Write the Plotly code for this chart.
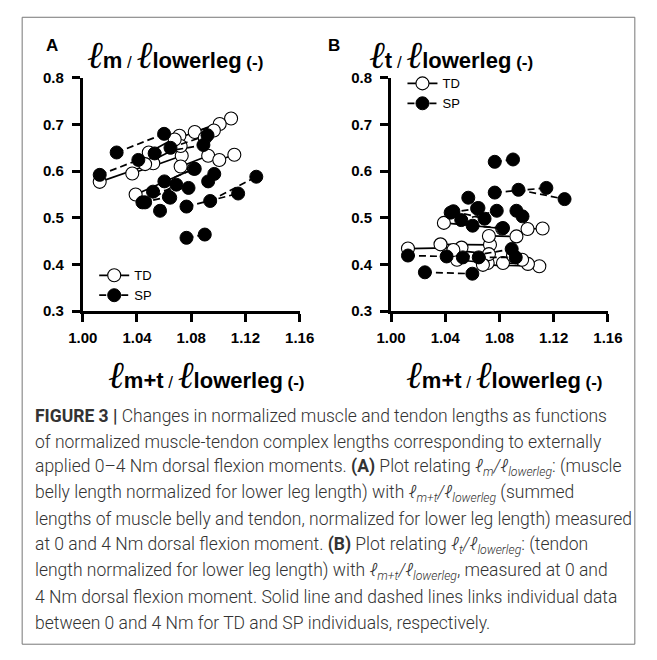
import plotly.graph_objects as go

# ---------------- data (normalized lengths, 0 Nm -> 4 Nm) ----------------
# TD individuals
td_x0 = [1.0125, 1.0365, 1.039, 1.0487, 1.046, 1.0678, 1.0722, 1.0826, 1.090, 1.1007]
td_x1 = [1.052, 1.073, 1.082, 1.0713, 1.0722, 1.1094, 1.0925, 1.101, 1.0967, 1.1118]
td_m0 = [0.577, 0.595, 0.550, 0.640, 0.615, 0.668, 0.610, 0.684, 0.671, 0.624]
td_m1 = [0.617, 0.633, 0.605, 0.676, 0.654, 0.713, 0.633, 0.701, 0.687, 0.635]
td_t0 = [0.434, 0.443, 0.489, 0.410, 0.431, 0.399, 0.461, 0.403, 0.419, 0.476]
td_t1 = [0.436, 0.442, 0.477, 0.403, 0.422, 0.396, 0.460, 0.401, 0.410, 0.477]

# SP individuals
sp_x0 = [1.0125, 1.025, 1.053, 1.0647, 1.0765, 1.0765, 1.094, 1.044, 1.046, 1.0518, 1.0602, 1.0925, 1.057]
sp_x1 = [1.041, 1.060, 1.089, 1.092, 1.090, 1.1146, 1.128, 1.0635, 1.069, 1.078, 1.0826, 1.097, 1.0645]
sp_m0 = [0.592, 0.640, 0.638, 0.650, 0.457, 0.524, 0.536, 0.533, 0.533, 0.556, 0.578, 0.578, 0.515]
sp_m1 = [0.624, 0.680, 0.656, 0.677, 0.464, 0.552, 0.588, 0.545, 0.571, 0.564, 0.605, 0.594, 0.543]
sp_t0 = [0.419, 0.383, 0.415, 0.415, 0.620, 0.554, 0.560, 0.511, 0.514, 0.495, 0.483, 0.515, 0.543]
sp_t1 = [0.417, 0.380, 0.433, 0.415, 0.625, 0.564, 0.540, 0.520, 0.498, 0.515, 0.478, 0.503, 0.521]

x_ticks = [1.00, 1.04, 1.08, 1.12, 1.16]
x_ticktext = ["1.00", "1.04", "1.08", "1.12", "1.16"]
y_ticks = [0.3, 0.4, 0.5, 0.6, 0.7, 0.8]
y_ticktext = ["0.3", "0.4", "0.5", "0.6", "0.7", "0.8"]

caption_lines = [
    "<b>FIGURE 3 |</b> Changes in normalized muscle and tendon lengths as functions",
    "of normalized muscle-tendon complex lengths corresponding to externally",
    "applied 0–4 Nm dorsal flexion moments. <b>(A)</b> Plot relating <i>ℓ<sub>m</sub>/ℓ<sub>lowerleg</sub></i>: (muscle",
    "belly length normalized for lower leg length) with <i>ℓ<sub>m+t</sub>/ℓ<sub>lowerleg</sub></i> (summed",
    "lengths of muscle belly and tendon, normalized for lower leg length) measured",
    "at 0 and 4 Nm dorsal flexion moment. <b>(B)</b> Plot relating <i>ℓ<sub>t</sub>/ℓ<sub>lowerleg</sub></i>: (tendon",
    "length normalized for lower leg length) with <i>ℓ<sub>m+t</sub>/ℓ<sub>lowerleg</sub></i>, measured at 0 and",
    "4 Nm dorsal flexion moment. Solid line and dashed lines links individual data",
    "between 0 and 4 Nm for TD and SP individuals, respectively.",
]

# ---------------- helpers ----------------
W, H = 657, 660


def px(v):
    return v / W


def py(v):
    return 1 - v / H


def segs(a0, a1):
    out = []
    for p, q in zip(a0, a1):
        out += [p, q, None]
    return out


fig = go.Figure()

panels = [
    ("x", "y", "legend", td_m0, td_m1, sp_m0, sp_m1),
    ("x2", "y2", "legend2", td_t0, td_t1, sp_t0, sp_t1),
]
for xa, ya, lg, tdy0, tdy1, spy0, spy1 in panels:
    fig.add_trace(go.Scatter(
        x=segs(td_x0, td_x1), y=segs(tdy0, tdy1), xaxis=xa, yaxis=ya,
        mode="lines+markers", name="TD", legend=lg, connectgaps=False,
        line=dict(color="black", width=1.7),
        marker=dict(symbol="circle", size=13, color="white",
                    line=dict(color="black", width=1.1)),
    ))
    fig.add_trace(go.Scatter(
        x=segs(sp_x0, sp_x1), y=segs(spy0, spy1), xaxis=xa, yaxis=ya,
        mode="lines+markers", name="SP", legend=lg, connectgaps=False,
        line=dict(color="black", width=1.7, dash="7px,4px"),
        marker=dict(symbol="circle", size=13, color="black",
                    line=dict(color="black", width=1)),
    ))

tickfont = dict(family="Liberation Sans", size=15, color="black", weight="bold")
axis_common = dict(
    showline=True, linecolor="black", linewidth=3, mirror=False,
    ticks="outside", ticklen=8, tickwidth=3, tickcolor="black",
    showgrid=False, zeroline=False, tickfont=tickfont,
)
ydom = [py(310), py(70.7)]
legend_font = dict(family="Liberation Sans", size=13, color="black")
fig.update_layout(
    width=W, height=H, margin=dict(l=0, r=0, t=0, b=0),
    paper_bgcolor="white", plot_bgcolor="white",
    xaxis=dict(domain=[px(71), px(298.3)], range=[1.0, 1.16], anchor="y",
               tickvals=x_ticks, ticktext=x_ticktext, ticklabelstandoff=3,
               **axis_common),
    yaxis=dict(domain=ydom, range=[0.3, 0.8], anchor="x",
               tickvals=y_ticks, ticktext=y_ticktext, ticklabelstandoff=5,
               **axis_common),
    xaxis2=dict(domain=[px(394), px(621.3)], range=[1.0, 1.16], anchor="y2",
                tickvals=x_ticks, ticktext=x_ticktext, ticklabelstandoff=3,
                **axis_common),
    yaxis2=dict(domain=ydom, range=[0.3, 0.8], anchor="x2",
                tickvals=y_ticks, ticktext=y_ticktext, ticklabelstandoff=5,
                **axis_common),
    legend=dict(x=px(83), y=py(258), xanchor="left", yanchor="top",
                font=legend_font, bgcolor="rgba(0,0,0,0)", itemwidth=30,
                tracegroupgap=0),
    legend2=dict(x=px(406), y=py(61), xanchor="left", yanchor="top",
                 font=legend_font, bgcolor="rgba(0,0,0,0)", itemwidth=30,
                 tracegroupgap=0),
    showlegend=True,
)

# outer frame
fig.add_shape(type="rect", xref="paper", yref="paper",
              x0=px(7.5), x1=px(649.5), y0=py(652), y1=py(8.5),
              line=dict(color="#777", width=1))

ELL = "<span style='font-family:Liberation Serif;font-size:38px'><i>ℓ</i></span>"
SLASH = "<span style='font-size:17px'> / </span>"
PAREN = "<span style='font-size:17px'><b> (-)</b></span>"


def title_text(sub):
    return (ELL + "<b>" + sub + "</b>" + SLASH + ELL + "<b>lowerleg</b>" + PAREN)


base_font = dict(family="Liberation Sans", size=22, color="black")
letter_font = dict(family="Liberation Sans", size=17, color="black", weight="bold")
annots = [
    dict(text="A", x=px(39), y=py(37), font=letter_font,
         xanchor="center", yanchor="middle"),
    dict(text="B", x=px(334), y=py(37), font=letter_font,
         xanchor="center", yanchor="middle"),
    dict(text=title_text("m"), x=px(73), y=py(47.5), font=base_font,
         xanchor="left", yanchor="middle"),
    dict(text=title_text("t"), x=px(369), y=py(47.5), font=base_font,
         xanchor="left", yanchor="middle"),
    dict(text=title_text("m+t"), x=px(95), y=py(375.5), font=base_font,
         xanchor="left", yanchor="middle"),
    dict(text=title_text("m+t"), x=px(408), y=py(375.5), font=base_font,
         xanchor="left", yanchor="middle"),
]
for i, line in enumerate(caption_lines):
    annots.append(dict(text=line, x=px(19), y=py(418 + 26.5 * i),
                       font=dict(family="Roboto", size=17.5, color="#333", weight=300),
                       xanchor="left", yanchor="middle"))
for a in annots:
    a.update(xref="paper", yref="paper", showarrow=False)
fig.update_layout(annotations=annots)

fig.write_html(
    "out.html",
    config={"displayModeBar": False},
    post_script="document.body.style.margin='0';document.body.style.overflow='hidden';",
)
